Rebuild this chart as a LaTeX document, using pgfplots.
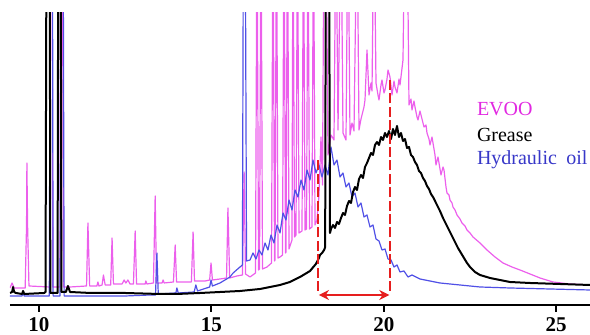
\documentclass[border=0pt]{standalone}
\usepackage{pgfplots}
\pgfplotsset{compat=1.18}
\usetikzlibrary{arrows.meta}
\usepackage{fontspec}
\setmainfont{Liberation Serif}
\definecolor{evoo}{RGB}{236,95,236}
\definecolor{evootxt}{RGB}{225,40,225}
\definecolor{hyd}{RGB}{80,80,230}
\definecolor{hydtxt}{RGB}{55,55,200}
\definecolor{arr}{RGB}{230,30,30}
\begin{document}
\begin{tikzpicture}
\path[use as bounding box] (0,0) rectangle (295pt,167.5pt);
\begin{axis}[
  at={(5pt,15pt)}, anchor=south west,
  width=290pt, height=146pt, scale only axis,
  xmin=9.16, xmax=25.98, ymin=0, ymax=292,
  axis x line=bottom, hide y axis,
  x axis line style={-, line width=1pt},
  xtick={10,15,20,25}, minor xtick={},
  tick align=outside, major tick length=3.5pt,
  every tick/.style={black, line width=1pt},
  /pgf/number format/assume math mode=true,
  xticklabel style={font=\bfseries\fontsize{10.5}{12}\selectfont, yshift=0.6pt},
  clip=true,
]
% EVOO
\addplot[evoo, line width=0.6pt, line join=round] coordinates {
(9.16,17)(9.22,22)(9.28,17)(9.60,17)(9.64,80)(9.65,142)(9.67,80)(9.71,19)(10.31,18)(10.33,400)(10.38,400)(10.40,18)(10.61,18)(10.63,400)(10.68,400)(10.71,18)(10.90,18)(11.38,19)(11.42,82)(11.47,19)(11.68,19)(11.71,23)(11.74,19)(11.83,20)(11.87,30)(11.92,20)(12.08,20)(12.12,67)(12.16,21)(12.41,21)(12.47,25)(12.52,22)(12.58,25)(12.64,21)(12.74,21)(12.79,74)(12.83,21)(13.08,21)(13.10,24)(13.13,21)(13.32,22)(13.37,109)(13.41,22)(13.57,22)(13.60,25)(13.63,22)(13.90,23)(13.95,60)(13.99,23)(14.42,23)(14.47,73)(14.51,24)(14.82,24)(14.95,25)(14.99,42)(15.03,25)(15.25,26)(15.44,27)(15.48,97)(15.53,27)(15.74,29)(15.90,30)(15.95,133)(15.99,31)(16.12,28)
(16.280,32)(16.323,400)(16.367,35)(16.396,36)(16.439,400)(16.483,36)(16.613,38)(16.744,42)(16.787,400)(16.831,44)(16.845,45)(16.889,400)(16.932,47)(16.990,48)(17.063,50)(17.106,400)(17.150,52)(17.164,53)(17.208,400)(17.251,56)(17.338,65)(17.367,400)(17.411,68)(17.454,70)(17.498,400)(17.541,72)(17.628,74)(17.672,400)(17.715,75)(17.759,76)(17.802,400)(17.846,76)(17.918,78)(17.962,400)(18.005,80)(18.063,85)(18.121,110)(18.179,168)(18.223,120)(18.266,400)(18.324,400)(18.382,150)(18.469,170)(18.556,165)(18.614,400)(18.672,175)(18.759,400)(18.817,172)(18.904,165)(18.962,400)(19.020,170)(19.078,182)(19.136,174)(19.223,400)(19.281,175)(19.339,186)(19.368,190)(19.426,198)(19.455,205)(19.513,255)(19.571,210)(19.629,222)(19.658,214)(19.716,400)(19.774,222)(19.832,210)(19.861,205)(19.919,220)(19.948,225)(20.006,212)(20.035,215)(20.093,226)(20.122,235)(20.180,228)(20.238,210)(20.296,224)(20.325,218)(20.383,212)(20.441,226)(20.470,220)(20.557,245)(20.615,400)(20.673,400)(20.731,200)(20.789,206)(20.818,195)(20.876,204)(20.905,198)(20.963,188)(20.992,185)(21.050,194)(21.079,190)(21.137,182)(21.166,178)(21.224,180)(21.253,172)(21.311,166)(21.340,160)(21.398,168)(21.427,162)(21.485,150)(21.514,140)(21.572,148)(21.630,136)(21.659,130)(21.717,138)(21.746,135)(21.804,118)(21.833,112)(21.891,110)(21.920,105)(21.978,102)(22.007,98)(22.065,95)(22.123,90)(22.210,86)(22.268,82)(22.355,79)(22.413,75)(22.500,72)(22.587,68)(22.790,62)(22.993,55)(23.225,48)(23.457,42)(23.718,38)(23.950,35)(24.240,31)(24.530,27)(24.907,23)(25.400,21)(25.980,20)
};
% Hydraulic oil
\addplot[hyd, line width=0.6pt, line join=round] coordinates {
(9.16,9)(9.36,9)(9.51,9)(9.54,14)(9.57,9)(10.30,9)(10.33,400)(10.39,400)(10.41,9)(10.61,9)(10.64,400)(10.70,400)(10.73,9)(11.5,9)(12.5,9)(13.22,10)(13.38,10)(13.42,52)(13.46,11)(13.97,12)(14.00,17)(14.04,12)(14.50,13)(14.55,20)(14.60,14)(14.95,18)(14.99,25)(15.03,19)(15.25,22)(15.54,28)(15.63,32)(15.83,38)(15.90,40)(15.93,400)(15.98,400)(16.02,44)(16.12,45)
(16.207,52)(16.294,46)(16.381,55)(16.468,50)(16.555,62)(16.642,55)(16.729,70)(16.816,62)(16.903,80)(16.990,72)(17.077,92)(17.164,85)(17.251,105)(17.338,95)(17.425,115)(17.512,108)(17.599,125)(17.686,115)(17.773,135)(17.860,125)(17.947,145)(18.034,132)(18.121,140)(18.208,128)(18.295,140)(18.382,130)(18.469,158)(18.556,140)(18.643,145)(18.730,128)(18.817,132)(18.904,118)(18.991,122)(19.078,108)(19.165,112)(19.252,98)(19.339,102)(19.426,88)(19.513,90)(19.600,78)(19.687,80)(19.774,66)(19.861,64)(19.948,55)(20.035,56)(20.122,46)(20.209,45)(20.296,38)(20.383,40)(20.470,33)(20.586,34)(20.702,28)(20.818,30)(21.050,26)(21.340,24)(21.630,22)(22.210,20)(22.790,18)(23.660,17)(24.820,16)(25.980,15)
};
% Grease
\addplot[black, line width=1pt, line join=round] coordinates {
(9.16,12)(9.22,13)(9.25,18)(9.28,13)(9.33,12)(9.51,11)(9.54,14)(9.57,11)(10.15,12)(10.19,13)(10.22,400)(10.31,400)(10.33,12)(10.54,12)(10.56,400)(10.63,400)(10.65,13)(10.78,13)(10.84,19)(10.90,13)(11.5,12)(12.5,12)(13.5,11)(14.0,11)(14.67,12)(15.25,13)(15.83,14)(16.12,15)(16.41,16)(16.70,18)(16.99,20)(17.28,23)(17.57,28)(17.86,34)(18.03,41)(18.09,45)(18.12,47)(18.15,50)(18.21,52)(18.27,55)(18.30,58)(18.32,400)(18.41,400)(18.44,72)
(18.469,76)(18.527,80)(18.585,77)(18.643,83)(18.701,81)(18.759,87)(18.817,92)(18.875,90)(18.933,99)(18.991,104)(19.049,102)(19.107,113)(19.165,118)(19.223,115)(19.281,126)(19.339,130)(19.397,127)(19.455,138)(19.513,142)(19.571,147)(19.629,152)(19.687,150)(19.745,160)(19.803,163)(19.861,160)(19.919,168)(19.977,165)(20.035,172)(20.093,168)(20.151,174)(20.209,166)(20.267,176)(20.325,170)(20.383,179)(20.441,168)(20.499,172)(20.557,164)(20.615,166)(20.673,157)(20.731,158)(20.789,150)(20.847,148)(20.905,143)(20.963,140)(21.021,134)(21.079,132)(21.137,127)(21.195,124)(21.253,119)(21.311,116)(21.369,111)(21.427,108)(21.485,104)(21.543,100)(21.630,94)(21.717,87)(21.804,81)(21.891,75)(21.978,69)(22.065,63)(22.152,57)(22.239,52)(22.326,47)(22.413,42)(22.500,38)(22.645,33)(22.790,30)(23.080,27)(23.370,25)(23.660,23)(24.240,22)(25.110,21)(25.980,20)
};
% annotation
\draw[arr, line width=1pt, dash pattern=on 5pt off 1.7pt] (axis cs:18.09,14) -- (axis cs:18.09,147);
\draw[arr, line width=1pt, dash pattern=on 5pt off 1.7pt] (axis cs:20.18,14) -- (axis cs:20.18,228);
\draw[arr, line width=1pt, {Stealth[length=5pt,width=5pt]}-{Stealth[length=5pt,width=5pt]}] (axis cs:18.12,10) -- (axis cs:20.16,10);
\end{axis}
\node[anchor=base west, inner sep=0pt, text=evootxt, font=\fontsize{10}{12}\selectfont] at (238.3pt,109.5pt) {EVOO};
\node[anchor=base west, inner sep=0pt, text=black, font=\fontsize{10}{12}\selectfont] at (238.3pt,96.6pt) {Grease};
\node[anchor=base west, inner sep=0pt, text=hydtxt, font=\fontsize{10}{12}\selectfont] at (238.3pt,85pt) {Hydraulic\hspace{4.7pt}oil};
\end{tikzpicture}
\end{document}
